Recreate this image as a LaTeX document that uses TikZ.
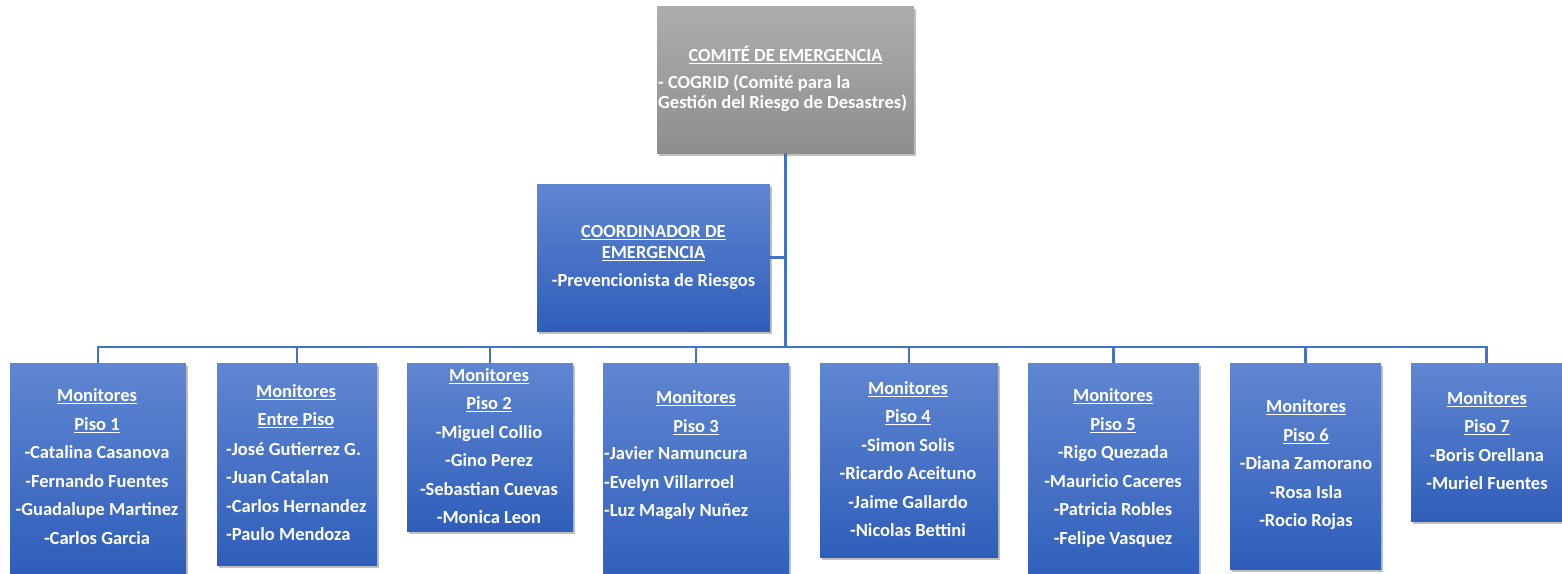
\documentclass[tikz,border=0pt]{standalone}
\usepackage{fontspec}
\setmainfont{Carlito}
\usetikzlibrary{shadows}
\definecolor{linec}{HTML}{4472C4}
\definecolor{btop}{HTML}{5F86D1}
\definecolor{bbot}{HTML}{2F5EBA}
\definecolor{gtop}{HTML}{ADADAD}
\definecolor{gbot}{HTML}{8E8E8E}
\begin{document}
\begin{tikzpicture}[x=1pt,y=-1pt,
  shad/.style={drop shadow={shadow xshift=2pt,shadow yshift=-3pt,opacity=0.25,fill=black}},
  bluebox/.style={rectangle, inner sep=0pt, draw=none, top color=btop, bottom color=bbot, shad},
  graybox/.style={rectangle, inner sep=0pt, draw=none, top color=gtop, bottom color=gbot, shad},
  txt/.style={text=white, inner sep=0pt, font=\fontsize{18.5}{28.5}\selectfont\bfseries, align=center},
  txtl/.style={text=white, inner sep=0pt, font=\fontsize{18.5}{28.5}\selectfont\bfseries, align=left, anchor=west},
  conn/.style={draw=linec, line width=2.5pt}
]
\useasboundingbox (0,0) rectangle (1562,573);

% boxes
\node[graybox, minimum width=257pt, minimum height=147pt] (top) at (785.5,79.5) {};
\node[bluebox, minimum width=233pt, minimum height=147pt] (coord) at (653.5,257.5) {};

\node[bluebox, minimum width=176pt, minimum height=210pt, anchor=north] (m1) at (98,363) {};
\node[bluebox, minimum width=160pt, minimum height=202pt, anchor=north] (m2) at (297,363) {};
\node[bluebox, minimum width=166pt, minimum height=168pt, anchor=north] (m3) at (490,363) {};
\node[bluebox, minimum width=186pt, minimum height=225pt, anchor=north] (m4) at (696,363) {};
\node[bluebox, minimum width=178pt, minimum height=194pt, anchor=north] (m5) at (909,363) {};
\node[bluebox, minimum width=171pt, minimum height=225pt, anchor=north] (m6) at (1113.5,363) {};
\node[bluebox, minimum width=151pt, minimum height=206pt, anchor=north] (m7) at (1305.5,363) {};
\node[bluebox, minimum width=151pt, minimum height=158pt, anchor=north] (m8) at (1486.5,363) {};

% connectors
\coordinate (bus) at (785.5,347);
\coordinate (join) at (785.5,257.5);
\draw[conn] (top.south) -- (bus);
\draw[conn] (coord.east) -- (join);
\foreach \m in {m1,m2,m3,m4,m5,m6,m7,m8} {
  \draw[conn] (bus) -| (\m.north);
}

% texts
\node[txt] (t0) at (785.5,55) {\underline{COMITÉ DE EMERGENCIA}};
\node[txtl, font=\fontsize{18.5}{20.5}\selectfont\bfseries] (t0b) at (658,93) {- COGRID (Comité para la\\Gestión del Riesgo de Desastres)};
\node[txt, font=\fontsize{18.5}{21}\selectfont\bfseries] (tc) at (653.5,257.5) {\underline{COORDINADOR DE}\\\underline{EMERGENCIA}\\[7pt]-Prevencionista de Riesgos};

\node[txt] (t1) at (97,466.5) {\underline{Monitores}\\\underline{Piso 1}\\-Catalina Casanova\\-Fernando Fuentes\\-Guadalupe Martinez\\-Carlos Garcia};
\node[txt] (t2) at (296,406) {\underline{Monitores}\\\underline{Entre Piso}};
\node[txtl] (t2b) at (226,491.5) {-José Gutierrez G.\\-Juan Catalan\\-Carlos Hernandez\\-Paulo Mendoza};
\node[txt] (t3) at (489,446) {\underline{Monitores}\\\underline{Piso 2}\\-Miguel Collio\\-Gino Perez\\-Sebastian Cuevas\\-Monica Leon};
\node[txt] (t4) at (696,412.5) {\underline{Monitores}\\\underline{Piso 3}};
\node[txtl] (t4b) at (604,483.5) {-Javier Namuncura\\-Evelyn Villarroel\\-Luz Magaly Nuñez};
\node[txt] (t5) at (908,459) {\underline{Monitores}\\\underline{Piso 4}\\-Simon Solis\\-Ricardo Aceituno\\-Jaime Gallardo\\-Nicolas Bettini};
\node[txt] (t6) at (1113,468) {\underline{Monitores}\\\underline{Piso 5}\\-Rigo Quezada\\-Mauricio Caceres\\-Patricia Robles\\-Felipe Vasquez};
\node[txt] (t7) at (1306,465) {\underline{Monitores}\\\underline{Piso 6}\\-Diana Zamorano\\-Rosa Isla\\-Rocio Rojas};
\node[txt] (t8) at (1487,440.5) {\underline{Monitores}\\\underline{Piso 7}\\-Boris Orellana\\-Muriel Fuentes};
\end{tikzpicture}
\end{document}
